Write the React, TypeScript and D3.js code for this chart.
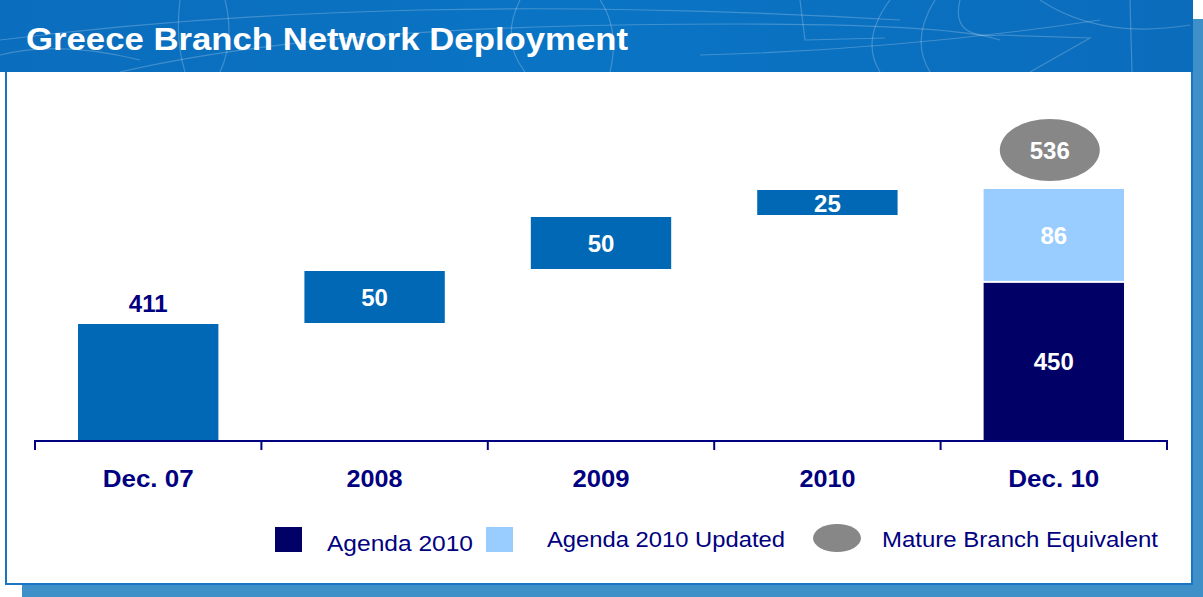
import React from 'react';
import * as d3 from 'd3';

// chart values
const categories = ['Dec. 07', '2008', '2009', '2010', 'Dec. 10'];
const waterfallSteps = [411, 50, 50, 25]; // Dec. 07 base, then yearly additions
const agenda2010 = 450;
const agenda2010Updated = 86;
const matureBranchEquivalent = 536;
const legendLabels = ['Agenda 2010', 'Agenda 2010 Updated', 'Mature Branch Equivalent'];

const W = 1203;
const H = 597;
const NAVY = '#000066';
const MID = '#0068b4';
const LIGHT = '#99ccff';
const GREY = '#878787';
const TEXT = '#000080';
const FONT = '"Liberation Sans", Arial, sans-serif';

export default function App() {
  // band per category, axis runs across the whole panel
  const x = d3.scaleBand<string>().domain(categories).range([35, 1167]).paddingInner(0).paddingOuter(0);
  const barW = x.bandwidth() * 0.62;

  // the slide uses a broken axis: base bar compressed, increments on a finer scale
  const y = d3.scaleLinear().domain([0, waterfallSteps[0], matureBranchEquivalent]).range([440, 324, 189]);

  // cumulative waterfall segments
  let run = 0;
  const steps = waterfallSteps.map((v, i) => {
    const s = { cat: categories[i], from: run, to: run + v, value: v };
    run += v;
    return s;
  });
  const lastCat = categories[categories.length - 1];
  const stacked = [
    { from: 0, to: agenda2010, value: agenda2010, fill: NAVY },
    { from: agenda2010, to: agenda2010 + agenda2010Updated, value: agenda2010Updated, fill: LIGHT },
  ];

  const cx = (c: string) => (x(c) ?? 0) + x.bandwidth() / 2;
  const edges = categories.map((c) => x(c) ?? 0).concat([x.range()[1]]);
  const legendY = 540;

  // rendered widths of the slide's (slightly stretched) text
  const catWidths = [91, 56, 57, 56, 91];

  return (
    <svg width={W} height={H} style={{ position: 'absolute', left: 0, top: 0 }}>
      {/* shadow frame */}
      <rect x={22} y={19} width={W - 22} height={H - 19} fill="#3f8fc8" />
      {/* white panel */}
      <rect x={6} y={2} width={1186} height={582} fill="#fff" stroke="#1a75c4" strokeWidth={2} />
      {/* header band */}
      <defs>
        <linearGradient id="hdr" x1="0" x2="1" y1="0" y2="0">
          <stop offset="0%" stopColor="#0b6dbd" />
          <stop offset="50%" stopColor="#0a74c4" />
          <stop offset="100%" stopColor="#0b6cbc" />
        </linearGradient>
        <clipPath id="hclip">
          <rect x={0} y={0} width={1193} height={72} />
        </clipPath>
      </defs>
      <rect x={0} y={0} width={1193} height={72} fill="url(#hdr)" />
      <g clipPath="url(#hclip)" fill="none" stroke="#ffffff" strokeOpacity={0.22} strokeWidth={1.2}>
        <path d="M0,40 Q200,15 420,10 T900,20" />
        <path d="M120,72 Q300,30 620,25 T1000,40" />
        <path d="M180,0 Q175,40 185,72" />
        <path d="M225,0 Q235,40 220,72" />
        <path d="M520,0 Q500,40 525,72" />
        <path d="M600,0 Q620,30 610,72" />
        <path d="M800,0 L805,40 L885,38" />
        <path d="M890,0 Q860,40 880,72" />
        <path d="M935,0 Q910,40 930,72" />
        <path d="M960,0 Q950,40 1000,35 L1090,38 L1030,72" />
        <path d="M700,55 Q900,50 1100,20" />
        <path d="M1130,0 L1132,72" />
        <path d="M1040,0 Q1100,40 1190,25" />
        <path d="M0,55 Q60,40 140,60" />
      </g>
      <text x={26} y={50} fill="#fff" fontFamily={FONT} fontWeight="bold" fontSize={32} textLength={602} lengthAdjust="spacingAndGlyphs">
        Greece Branch Network Deployment
      </text>

      {/* waterfall bars */}
      {steps.map((s, i) => {
        const isBase = i === 0;
        const top = y(s.to) + (isBase ? 0 : 1);
        const bottom = y(s.from) - (isBase ? 0 : 1);
        return (
          <g key={s.cat}>
            <rect x={cx(s.cat) - barW / 2} y={top} width={barW} height={bottom - top} fill={MID} />
            <text
              x={cx(s.cat)}
              y={isBase ? top - 12 : (top + bottom) / 2 + 9}
              textAnchor="middle"
              fill={isBase ? TEXT : '#fff'}
              fontFamily={FONT}
              fontWeight="bold"
              fontSize={24}
            >
              {s.value}
            </text>
          </g>
        );
      })}

      {/* Dec. 10 stacked */}
      {stacked.map((s, i) => {
        const top = y(s.to) + (i === 0 ? 1 : 0);
        const bottom = y(s.from) - (i === 0 ? 0 : 1);
        return (
          <g key={i}>
            <rect x={cx(lastCat) - barW / 2} y={top} width={barW} height={bottom - top} fill={s.fill} />
            <text x={cx(lastCat)} y={(top + bottom) / 2 + 9} textAnchor="middle" fill="#fff" fontFamily={FONT} fontWeight="bold" fontSize={24}>
              {s.value}
            </text>
          </g>
        );
      })}
      <ellipse cx={cx(lastCat) - 4} cy={y(matureBranchEquivalent) - 39} rx={50} ry={31} fill={GREY} />
      <text x={cx(lastCat) - 4} y={y(matureBranchEquivalent) - 30} textAnchor="middle" fill="#fff" fontFamily={FONT} fontWeight="bold" fontSize={24}>
        {matureBranchEquivalent}
      </text>

      {/* axis */}
      <line x1={edges[0]} x2={edges[edges.length - 1]} y1={y(0) + 1} y2={y(0) + 1} stroke={TEXT} strokeWidth={2} />
      {edges.map((e, i) => (
        <line key={i} x1={e} x2={e} y1={y(0)} y2={y(0) + 10} stroke={TEXT} strokeWidth={2} />
      ))}
      {categories.map((c, i) => (
        <text
          key={c}
          x={cx(c) - catWidths[i] / 2}
          y={487}
          fill={TEXT}
          fontFamily={FONT}
          fontWeight="bold"
          fontSize={24}
          textLength={catWidths[i]}
          lengthAdjust="spacingAndGlyphs"
        >
          {c}
        </text>
      ))}

      {/* legend */}
      <rect x={275} y={legendY - 13} width={27} height={25} fill={NAVY} />
      <text x={327} y={legendY + 11} fill={TEXT} fontFamily={FONT} fontSize={22} textLength={146} lengthAdjust="spacingAndGlyphs">
        {legendLabels[0]}
      </text>
      <rect x={486} y={legendY - 13} width={27} height={25} fill={LIGHT} />
      <text x={547} y={legendY + 7} fill={TEXT} fontFamily={FONT} fontSize={22} textLength={238} lengthAdjust="spacingAndGlyphs">
        {legendLabels[1]}
      </text>
      <ellipse cx={837} cy={legendY - 2} rx={24} ry={14} fill={GREY} />
      <text x={882} y={legendY + 7} fill={TEXT} fontFamily={FONT} fontSize={22} textLength={276} lengthAdjust="spacingAndGlyphs">
        {legendLabels[2]}
      </text>
    </svg>
  );
}
